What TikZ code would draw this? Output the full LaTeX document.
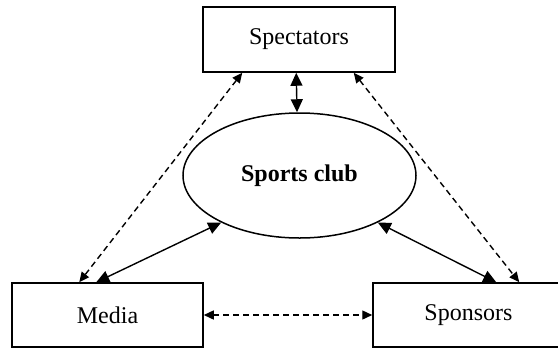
\documentclass[tikz,border=0pt]{standalone}
\usepackage{fontspec}
\setmainfont{Liberation Serif}
\usetikzlibrary{shapes.geometric,arrows.meta,calc}
\begin{document}
\begin{tikzpicture}[x=1pt,y=-1pt,
  box/.style={draw,line width=1.5pt,minimum width=191pt,minimum height=64pt,inner sep=0pt,font=\fontsize{24}{28}\selectfont},
  club/.style={draw,ellipse,line width=1.5pt,minimum width=233pt,minimum height=125pt,inner sep=0pt,font=\fontsize{24}{28}\selectfont\bfseries},
  solidarr/.style={line width=1.4pt,{Triangle[length=13pt,width=12pt]}-{Triangle[length=13pt,width=12pt]}},
  dasharr/.style={line width=1.4pt,dash pattern=on 6pt off 4pt,{Triangle[length=10pt,width=9pt]}-{Triangle[length=10pt,width=9pt]}}]
\useasboundingbox (0,0) rectangle (558,349);
\node[box,minimum width=192pt,minimum height=65pt] (spec) at (299,39.5) {Spectators};
\node[club] (ell) at (299.5,175.5) {Sports club};
\node[box] (media) at (107.5,315) {Media};
\node[box] (spons) at (468.5,315) {Sponsors};
\draw[solidarr] ($(spec.south west)+(94,0)$) -- ($(ell.north)+(-2.5,0)$);
\draw[dasharr] ($(spec.south west)+(40,0)$) -- ($(media.north west)+(68,0)$);
\draw[dasharr] ($(spec.south east)+(-42,0)$) -- ($(spons.north west)+(147,0)$);
\draw[solidarr] ($(media.north west)+(85,0)$) -- (ell.211);
\draw[solidarr] ($(spons.north west)+(124,0)$) -- (ell.-31);
\draw[dasharr] (media.east) -- (spons.west);
\end{tikzpicture}
\end{document}
